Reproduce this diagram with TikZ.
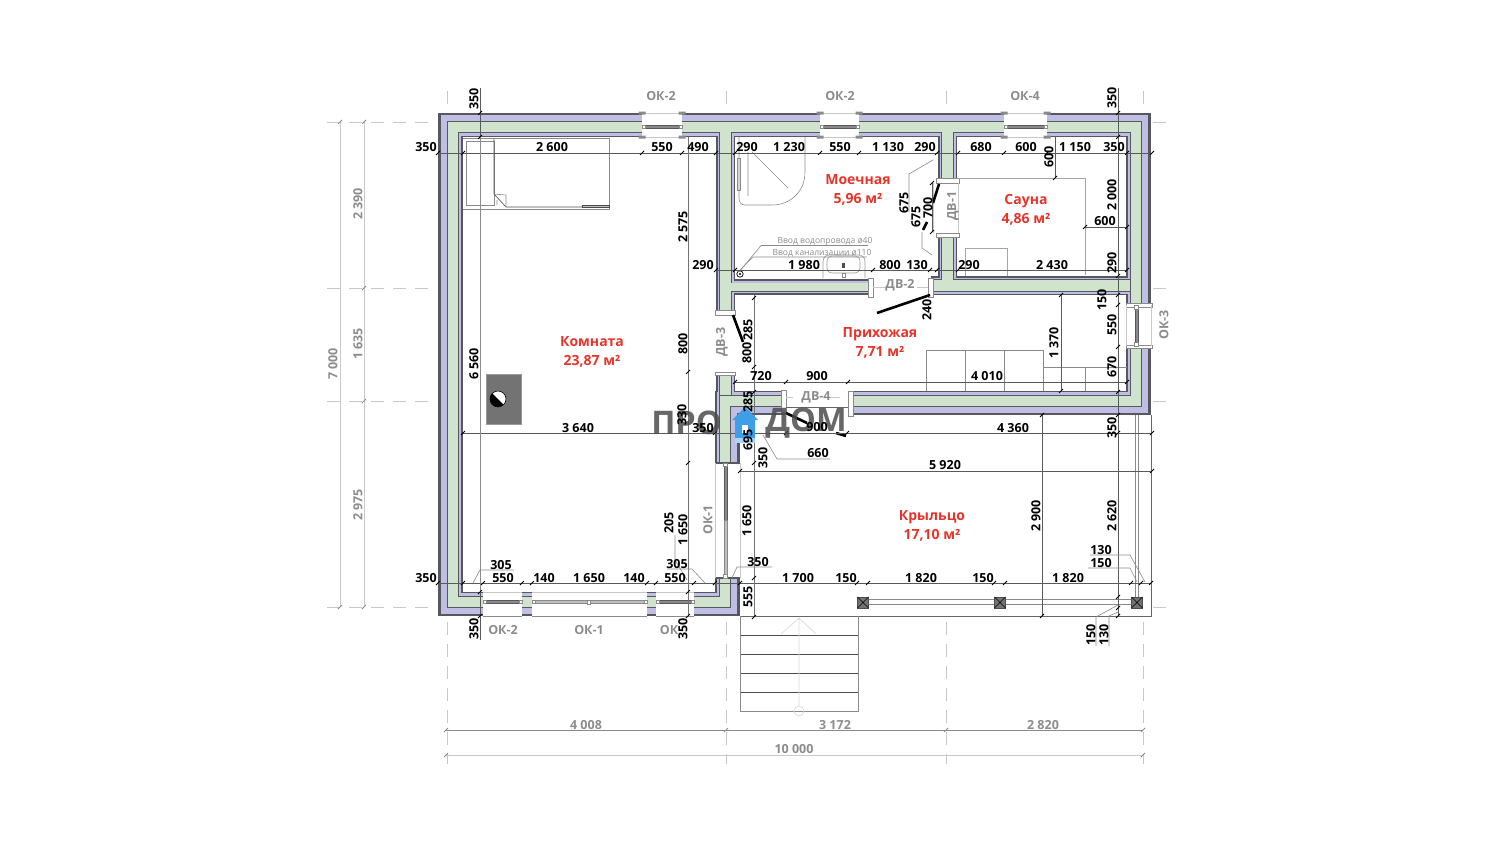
\documentclass[tikz,border=0pt]{standalone}
\usepackage{fontspec}
\setmainfont{Open Sans}
\definecolor{walldark}{HTML}{575762}
\definecolor{wallblue}{HTML}{BFBFE4}
\definecolor{wallgreen}{HTML}{D0E4CD}
\definecolor{greytext}{HTML}{8C8C8C}
\definecolor{roomred}{HTML}{E5352B}
\definecolor{lightline}{HTML}{C8C8C8}
\definecolor{midline}{HTML}{8A8A8A}
\definecolor{markblue}{HTML}{3F9FE6}
\begin{document}
\begin{tikzpicture}[x=1pt,y=-1pt,
    dim node/.style={font=\fontsize{12.5}{12.5}\selectfont\bfseries,inner sep=0pt},
    dim vert/.style={dim node,rotate=90},
    grey node/.style={dim node,text=greytext},
    grey vert/.style={grey node,rotate=90},
    room node/.style={font=\fontsize{14}{19}\selectfont\bfseries,text=roomred,align=center,inner sep=0pt},
    note node/.style={font=\fontsize{8.5}{8.5}\selectfont,text=greytext,inner sep=0pt},
    mark node/.style={font=\fontsize{32.5}{32.5}\selectfont\bfseries,text=black!70,opacity=0.85,inner sep=0pt},
    dim line/.style={draw=black!65,line width=0.5pt},
    thin line/.style={draw=midline,line width=0.6pt},
    light line/.style={draw=lightline,line width=0.7pt},
    axis line/.style={draw=lightline,line width=0.9pt,dash pattern=on 13pt off 9pt},
    door leaf/.style={draw=black,line width=2.6pt},
    wall cap/.style={draw=midline,fill=white,line width=0.8pt},
    window bar/.style={draw=walldark,fill=midline,line width=0.5pt},
    tick/.style={draw=black,line width=0.8pt}]
\useasboundingbox (0,0) rectangle (1500,849);

% axes
\foreach \y in {122,288,401,607} {
    \draw[axis line] (327,\y) -- (437,\y);
    \draw[light line] (1153,\y) -- (1166,\y);
}
\foreach \x in {447,726,946,1143} {
    \draw[light line] (\x,91) -- (\x,104);
    \draw[axis line] (\x,622) -- (\x,764);
}

% overall dimensions
\draw[light line] (340,122) -- (340,607);
\draw[light line] (364,122) -- (364,607);
\draw[midline,line width=0.6pt] (446,730) -- (1143,730);
\draw[light line] (446,755) -- (1143,755);
\foreach \y in {122,288,401,607} \draw[tick,draw=midline] (362,\y+2) -- (366,\y-2);
\foreach \y in {122,607} \draw[tick,draw=midline] (338,\y+2) -- (342,\y-2);
\foreach \x in {446,726,946,1143} \draw[tick,draw=midline] (\x-2,732) -- (\x+2,728);
\foreach \x in {446,1143} \draw[tick,draw=midline] (\x-2,757) -- (\x+2,753);

% porch
\draw[thin line,draw=black!60] (740,616) -- (1151,616) -- (1151,415);
\draw[thin line] (1135,415) -- (1135,597) (1138,415) -- (1138,597);
\foreach \y in {635,654,673,692} \draw[thin line,draw=black!70] (740,\y) -- (858,\y);
\draw[thin line] (740,616) -- (740,711) -- (858,711) -- (858,616);
\draw[light line,draw=black!15] (799,618) -- (799,706) (781,634) -- (799,618) -- (816,634);
\draw[light line,draw=black!15] (799,711) circle (5);
\foreach \a/\b in {868/994,1006/1131} {
    \draw[thin line] (\a,599.5) -- (\b,599.5) (\a,604) -- (\b,604);
}
\foreach \x in {863,1000,1137} {
    \draw[draw=black!70,fill=black!55,line width=0.5pt] (\x-5.5,597) rectangle (\x+5.5,608);
    \draw[black,line width=0.4pt] (\x-5.5,597) -- (\x+5.5,608) (\x-5.5,608) -- (\x+5.5,597);
}

% walls
\foreach \c/\o/\w/\d in {walldark/0/24.5/0,wallblue/0.7/20.5/3.5,walldark/2.2/12/7,wallgreen/2.2/10/8.5} {
    \draw[color=\c,line width=\w pt]
        (642,125+\o) -- (450.5+\o,125+\o) -- (450.5+\o,604-\o) -- (483,604-\o)
        (682,125+\o) -- (820,125+\o)
        (859,125+\o) -- (1004,125+\o)
        (1047,125+\o) -- (1138.5-\o,125+\o) -- (1138.5-\o,305)
        (1138.5-\o,346) -- (1138.5-\o,403-\o) -- (850,403-\o)
        (694,604-\o) -- (727.5-\o,604-\o) -- (727.5-\o,578)
        (522,604-\o) -- (532,604-\o)
        (647,604-\o) -- (656,604-\o)
        (785,403-\o) -- (727.5-\o,403-\o) -- (727.5-\o,463);
    \draw[color=\c,line width=19.5pt-\d pt]
        (725.5,130) -- (725.5,313)
        (725.5,372) -- (725.5,395)
        (947.5,130) -- (947.5,180)
        (947.5,235) -- (947.5,280)
        (931,285.5) -- (1130,285.5);
    \draw[color=\c,line width=16pt-\d pt] (720,287) -- (870,287);
}

% wall ends at the doors
\foreach \a/\b/\p/\q in {936/178/959/183,936/233/959/237,868/278/873/297,928/278/933/297,
    715/310/735/315,715/372/735/375,781/390/786/412,848/391/853/416,1126/303/1152/307,1126/345/1152/348} {
    \draw[wall cap] (\a,\b) rectangle (\p,\q);
}
\draw[walldark,line width=1.2pt] (715,578) -- (740,578) (715,463) -- (740,463);
\draw[light line] (958,183) -- (958,233) (933,183) -- (933,233) (873,287) -- (885,287) (917,287) -- (928,287);
\draw[light line] (786,397) -- (793,397) (827,397) -- (840,397);
\draw[thin line,draw=black!60] (786,407) -- (848,407);

% windows
\foreach \a/\b in {642/682,820/859,1004/1047} {
    \draw[light line] (\a,113) -- (\b,113) (\a,137) -- (\b,137);
    \draw[window bar] (\a+3,125) rectangle (\b-3,128.5);
    \draw[wall cap] (\a,125) rectangle (\a+3,128.5) (\b-3,125) rectangle (\b,128.5);
    \foreach \t in {\a,\b} {
        \fill[midline] (\t-3.5,111.5) rectangle (\t+3.5,114.5) (\t-3.5,135.5) rectangle (\t+3.5,138.5);
    }
}
\foreach \a/\b in {483/522,656/694} {
    \draw[light line] (\a,592) -- (\b,592);
    \draw[thin line] (\a,616) -- (\b,616);
    \draw[window bar] (\a+3,600.5) rectangle (\b-3,603.5);
    \draw[wall cap] (\a,600.5) rectangle (\a+3,603.5) (\b-3,600.5) rectangle (\b,603.5);
}
\draw[light line] (532,592) -- (647,592);
\draw[thin line] (532,616) -- (647,616);
\draw[draw=midline,fill=black!25,line width=0.5pt] (535,600.5) rectangle (644,603.5);
\draw[wall cap] (532,600.5) rectangle (535,603.5) (644,600.5) rectangle (647,603.5) (587,600) rectangle (590,604);
\draw[light line] (715,463) -- (715,578) (740,463) -- (740,578);
\draw[window bar] (724,466) rectangle (727,520);
\draw[draw=midline,fill=black!25,line width=0.5pt] (724,520) rectangle (727,574);
\draw[wall cap] (723.5,463) rectangle (727.5,466) (723.5,574) rectangle (727.5,578);
\draw[light line] (1126,305) -- (1126,346) (1151,305) -- (1151,346);
\draw[window bar] (1135,309) rectangle (1138,342);
\draw[wall cap] (1134.5,305) rectangle (1138.5,309) (1134.5,342) rectangle (1138.5,346);

% door leaves
\draw[door leaf] (939,184) -- (933,203) (927,222) -- (923,230);
\draw[door leaf] (930,295) -- (877,313);
\draw[door leaf] (733,315) -- (743,342);
\draw[door leaf] (786,413) -- (807,423) (836,433) -- (846,436);

% room fittings
\draw[thin line] (463,138.5) -- (609,138.5) -- (609,209) -- (463,209);
\draw[thin line] (466,141) rectangle (494,205);
\draw[thin line,draw=black!70] (494,139) -- (494,194) -- (506,207) -- (609,207);
\draw[thin line] (494,194) -- (506,195) -- (506,207) (497,200) -- (497,205);
\draw[thin line,draw=black!70] (582,205) rectangle (609,207);
\draw[fill=black!55,draw=black!40,line width=0.5pt] (486,374.5) rectangle (521.5,424);
\fill[white] (498,399) circle (8);
\fill[black] (492.3,393.3) arc[start angle=225,end angle=45,radius=8] -- cycle;
\draw[black,line width=0.6pt] (498,399) circle (8);

\draw[thin line] (805,137) -- (805,172) .. controls (805,192) and (790,205) .. (772,205) -- (745,205)
    .. controls (741,205) and (739,202) .. (739,198) -- (739,137);
\draw[thin line] (752,152) -- (788,188) (748,152) -- (748,196);
\draw[thin line] (737.5,158) rectangle (740,190);
\draw[thin line,draw=black!40] (823,278) -- (823,262) .. controls (823,257) and (826,255) .. (830,255) -- (858,255)
    .. controls (862,255) and (865,257) .. (865,262) -- (865,278);
\draw[thin line,draw=black!40] (827,262) .. controls (827,258) and (829,256) .. (833,256) -- (855,256)
    .. controls (858,256) and (860,258) .. (860,262) -- (860,268) .. controls (860,271) and (858,273) .. (855,273)
    -- (833,273) .. controls (829,273) and (827,271) .. (827,268) -- cycle;
\fill[black!70] (842,263) rectangle (845,268);
\draw[thin line] (842,273) rectangle (845,277);
\draw[black,line width=0.7pt] (740,274) circle (3.2);
\fill[black] (740,274) circle (1.2);
\node[note node] (n1) at (825,241) {Ввод водопровода ø40};
\node[note node] (n2) at (822,253) {Ввод канализации ø110};
\draw[thin line] (868,245.5) -- (761,245.5) -- (739,272);
\draw[thin line] (867,257) -- (753,257) -- (738,272);

\draw[thin line,draw=black!35] (958,178) -- (1085,178) -- (1085,275);
\draw[thin line,draw=black!35] (965,276) -- (965,248) -- (1007,248) -- (1007,276);

\draw[thin line] (926,391) -- (926,350) -- (1043,350) -- (1043,391);
\draw[thin line] (965,350) -- (965,391) (1004,350) -- (1004,391);
\draw[thin line] (1043,367) -- (1127,367) (1085,367) -- (1085,391);

% dimension lines
\draw[dim line] (437,153) -- (1152,153);
\draw[dim line] (716,270) -- (1127,270);
\draw[dim line] (735,382) -- (1127,382);
\draw[dim line] (463,433) -- (1152,433);
\draw[dim line] (740,471) -- (1152,471);
\draw[dim line] (437,583) -- (1152,583);
\draw[dim line] (1085,227) -- (1127,227);
\draw[dim line] (480,88) -- (480,137);
\draw[dim line,draw=black!45] (480,137) -- (480,592);
\draw[dim line] (480,592) -- (480,640);
\draw[dim line,draw=black!55] (688,137) -- (688,616);
\draw[dim line,draw=black!55] (754,295) -- (754,617);
\draw[dim line] (1118,88) -- (1118,616);
\draw[dim line] (1061,295) -- (1061,391);
\draw[dim line] (1042,415) -- (1042,616);
\draw[dim line] (1055,137) -- (1055,178);
\draw[dim line] (932,183) -- (932,232);

% leaders
\draw[thin line] (514,570) -- (480,570) -- (473,583);
\draw[thin line] (667,569) -- (692,569) -- (705,583);
\draw[thin line] (675,535) -- (675,560) -- (687,580);
\draw[thin line] (772,567) -- (737,567) -- (732,578);
\draw[thin line] (830,459) -- (777,459) -- (763,435);
\draw[thin line] (1090,555) -- (1130,555) -- (1145,582);
\draw[thin line] (1088,568) -- (1130,568) -- (1137,582);
\draw[thin line] (1096,646) -- (1096,617) -- (1118,605);
\draw[thin line] (1109,646) -- (1109,616) -- (1118,612);
\draw[thin line] (933,160) -- (909,174) -- (909,212);
\draw[thin line] (932,255) -- (922,248) -- (922,232);

% ticks
\foreach \x in {438,463,642,682,716,735,820,859,937,958,1004,1047,1127,1152} \draw[tick] (\x-2,155) -- (\x+2,151);
\foreach \x in {716,735,873,930,937,958,1127} \draw[tick] (\x-2,272) -- (\x+2,268);
\foreach \x in {735,786,848,1127} \draw[tick] (\x-2,384) -- (\x+2,380);
\foreach \x in {463,715,740,786,847,1118,1152} \draw[tick] (\x-2,435) -- (\x+2,431);
\foreach \x in {740,1152} \draw[tick] (\x-2,473) -- (\x+2,469);
\foreach \x in {438,463,483,522,532,647,656,694,715,740,857,868,994,1005,1131,1141,1151} \draw[tick] (\x-2,585) -- (\x+2,581);
\foreach \x in {1085,1127} \draw[tick] (\x-2,229) -- (\x+2,225);
\foreach \y in {113,137,592,616} \draw[tick] (478,\y+2) -- (482,\y-2);
\foreach \y in {372,463,592,616} \draw[tick] (686,\y+2) -- (690,\y-2);
\foreach \y in {298,367,392,463,578,617} \draw[tick] (752,\y+2) -- (756,\y-2);
\foreach \y in {113,137,276,295,305,347,392,415,597,608,616} \draw[tick] (1116,\y+2) -- (1120,\y-2);
\foreach \y in {295,391} \draw[tick] (1059,\y+2) -- (1063,\y-2);
\draw[tick] (1040,417) -- (1044,413) (1040,618) -- (1044,614);
\draw[tick] (1053,180) -- (1057,176) (930,185) -- (934,181) (930,234) -- (934,230);

% mark
\node[mark node] (pro) at (686.5,423) {ПРО};
\node[mark node] (dom) at (806,423) {ДОМ};
\fill[markblue] (745,407) -- (758,420) -- (755,420) -- (755,438) -- (735,438) -- (735,420) -- (732,420) -- cycle;
\fill[white] (742,425) rectangle (748,433);
\fill[markblue!45] (735,438) rectangle (755,443);

% horizontal dimension texts
\foreach \x/\y/\t [count=\i] in {426/147/350,552/147/{2 600},662/147/550,698/147/490,747/147/290,789/147/{1 230},
    840/147/550,888/147/{1 130},925/147/290,981/147/680,1026/147/600,1075/147/{1 150},1114/147/350,
    703/265/290,804/265/{1 980},890/265/800,917/265/130,969/265/290,1052/265/{2 430},1105/221/600,
    761/376/720,817/376/900,987/376/{4 010},
    578/428/{3 640},703/428/350,817/427/900,1013/428/{4 360},945/465/{5 920},818/453/660,
    426/578/350,503/578/550,544/578/140,589/578/{1 650},634/578/140,675/578/550,
    798/578/{1 700},846/578/150,921/578/{1 820},983/578/150,1068/578/{1 820},
    501/565/305,677/564/305,758/562/350,1101/550/130,1101/563/150} {
    \node[dim node] (h\i) at (\x,\y) {\t};
}

% vertical dimension texts
\foreach \x/\y/\t [count=\i] in {474/99/350,474/364/{6 560},474/629/350,683/629/350,
    683/227/{2 575},683/344/800,682/415/330,669/523/205,683/530/{1 650},
    748/330/285,747/353/800,748/402/285,748/440/695,763/458/350,747/521/{1 650},748/597/555,
    904/203/675,916/217/675,928/208/700,927/310/240,
    1049/157/600,1112/98/350,1112/195/{2 000},1112/263/290,1102/300/150,1112/325/550,1112/367/670,1112/428/350,
    1112/516/{2 620},1036/516/{2 900},1054/343/{1 370},1091/635/150,1104/635/130} {
    \node[dim vert] (v\i) at (\x,\y) {\t};
}

% grey labels
\foreach \x/\y/\t [count=\i] in {661/96/ОК-2,840/96/ОК-2,1025/96/ОК-4,503/630/ОК-2,589/630/ОК-1,669/630/ОК,
    900/285/ДВ-2,816/397/ДВ-4,586/725/{4 008},835/725/{3 172},1043/725/{2 820},794/749/{10 000}} {
    \node[grey node] (g\i) at (\x,\y) {\t};
}
\foreach \x/\y/\t [count=\i] in {1164/325/ОК-3,708/520/ОК-1,953/206/ДВ-1,722/342/ДВ-3,
    333/364/{7 000},358/204/{2 390},358/344/{1 635},358/505/{2 975}} {
    \node[grey vert] (r\i) at (\x,\y) {\t};
}

% rooms
\node[room node] (komnata) at (592,352) {Комната\\23,87 м²};
\node[room node] (moechnaya) at (858,190) {Моечная\\5,96 м²};
\node[room node] (sauna) at (1026,210) {Сауна\\4,86 м²};
\node[room node] (prihozhaya) at (880,343) {Прихожая\\7,71 м²};
\node[room node] (krylco) at (932,526) {Крыльцо\\17,10 м²};
\end{tikzpicture}
\end{document}
